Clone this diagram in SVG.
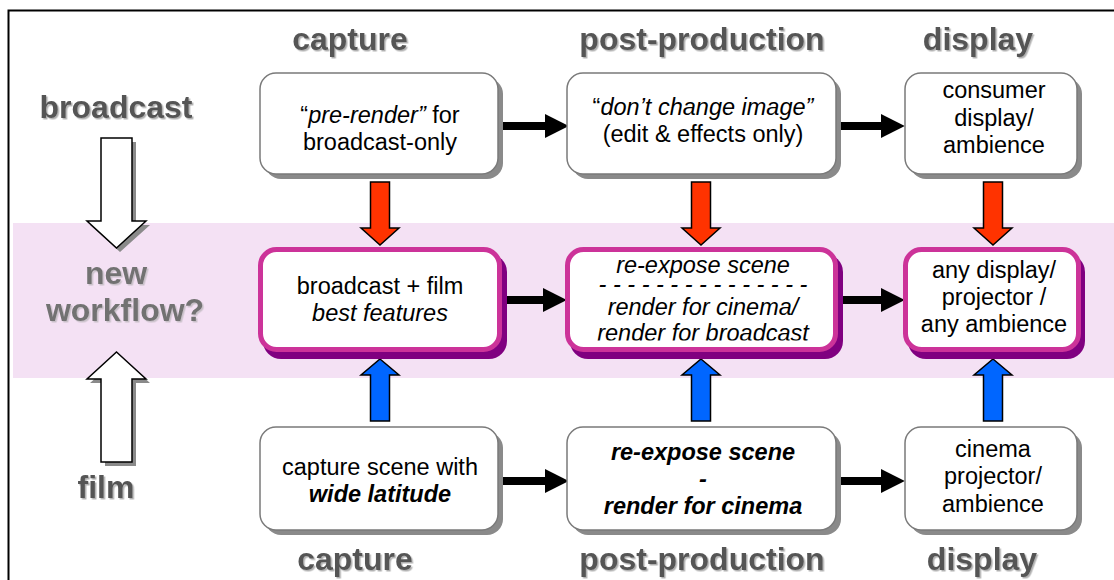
<svg xmlns="http://www.w3.org/2000/svg" width="1114" height="580" viewBox="0 0 1114 580">
  <style>
    text { font-family: "Liberation Sans", Arial, Helvetica, sans-serif; }
    .hd { font-size: 32px; font-weight: bold; fill: #555555; text-anchor: middle; filter: url(#tshadow); }
    .hd2 { font-size: 32px; font-weight: bold; fill: #727272; text-anchor: middle; filter: url(#tshadow2); }
    .t { font-size: 23.5px; fill: #000; text-anchor: middle; }
    .it { font-style: italic; }
    .bi { font-style: italic; font-weight: bold; }
    .box { fill: #ffffff; stroke: #7a7a7a; stroke-width: 1.5; }
    .boxsh { fill: #8a8a8a; }
    .mbox { fill: #ffffff; stroke: #cc3399; stroke-width: 5; }
    .mboxsh { fill: #800080; }
    .conn { stroke: #000; stroke-width: 8; fill: none; marker-end: url(#head); }
    .red { fill: #ff3300; stroke: #000; stroke-width: 1.5; stroke-linejoin: miter; }
    .blue { fill: #0066ff; stroke: #000; stroke-width: 1.5; stroke-linejoin: miter; }
    .wht { fill: #ffffff; stroke: #000; stroke-width: 1.5; stroke-linejoin: miter; }
    .whtsh { fill: #8a8a8a; }
  </style>
  <defs>
    <filter id="tshadow" x="-10%" y="-20%" width="120%" height="150%">
      <feDropShadow dx="1.5" dy="1.5" stdDeviation="0.6" flood-color="#b0b0b0" flood-opacity="1"/>
    </filter>
    <filter id="tshadow2" x="-10%" y="-20%" width="120%" height="150%">
      <feDropShadow dx="1.5" dy="1.5" stdDeviation="0.6" flood-color="#c8c0c8" flood-opacity="1"/>
    </filter>
    <marker id="head" markerUnits="userSpaceOnUse" markerWidth="24" markerHeight="24" viewBox="0 0 22 22" refX="2" refY="11" orient="auto">
      <path d="M0,0 L22,11 L0,22 z" fill="#000"/>
    </marker>
    <clipPath id="clipM2">
      <rect x="560" y="250" width="280" height="90.5"/>
    </clipPath>
  </defs>

  <rect width="1114" height="580" fill="#ffffff"/>
  <!-- outer frame (runs off the right and bottom edges) -->
  <rect x="8.5" y="10.5" width="1200" height="700" fill="none" stroke="#000" stroke-width="2"/>
  <!-- highlighted middle band -->
  <rect x="13" y="223" width="1101" height="155" fill="#f4e1f4"/>

  <!-- row and column headings -->
  <g id="headings">
    <text class="hd" x="350" y="50">capture</text>
    <text class="hd" x="702" y="50">post-production</text>
    <text class="hd" x="978" y="50">display</text>
    <text class="hd" x="355" y="570">capture</text>
    <text class="hd" x="702" y="570">post-production</text>
    <text class="hd" x="982" y="570">display</text>
    <text class="hd" x="116" y="118">broadcast</text>
    <text class="hd2" x="116" y="284">new</text>
    <text class="hd2" x="125" y="321">workflow?</text>
    <text class="hd" x="106" y="498">film</text>
  </g>

  <!-- side arrows: broadcast down, film up -->
  <g id="side-arrows">
    <path class="whtsh" d="M105,142 H136 V225 H150 L120,252 L90,225 H105 Z"/>
    <path class="wht" d="M101,138 H132 V221 H146 L116.5,248 L87,221 H101 Z"/>
    <path class="whtsh" d="M120.5,356 L150,383 H136 V466 H105 V383 H90 Z"/>
    <path class="wht" d="M116.5,352 L146,379 H132 V462 H101 V379 H87 Z"/>
  </g>

  <!-- connectors -->
  <g id="connectors">
    <line class="conn" x1="500" y1="126" x2="547" y2="126"/>
    <line class="conn" x1="838" y1="126" x2="883" y2="126"/>
    <line class="conn" x1="504" y1="300" x2="545" y2="300"/>
    <line class="conn" x1="840" y1="300" x2="883" y2="300"/>
    <line class="conn" x1="500" y1="481" x2="547" y2="481"/>
    <line class="conn" x1="838" y1="481" x2="883" y2="481"/>

    <path class="red" d="M370.5,182 H389.5 V228 H399 L380,245 L361,228 H370.5 Z"/>
    <path class="red" d="M691.5,182 H710.5 V228 H720 L701,245 L682,228 H691.5 Z"/>
    <path class="red" d="M983.5,182 H1002.5 V228 H1012 L993,245 L974,228 H983.5 Z"/>

    <path class="blue" d="M380,359 L399,375 H389.5 V421 H370.5 V375 H361 Z"/>
    <path class="blue" d="M701,359 L720,375 H710.5 V421 H691.5 V375 H682 Z"/>
    <path class="blue" d="M993,359 L1012,375 H1002.5 V421 H983.5 V375 H974 Z"/>
  </g>

  <!-- broadcast row -->
  <g id="bc-capture">
    <rect class="boxsh" x="265" y="78" width="238" height="101" rx="16"/>
    <rect class="box" x="260" y="73" width="238" height="101" rx="16"/>
    <text class="t" x="380" y="123">“<tspan class="it">pre-render”</tspan> for</text>
    <text class="t" x="380" y="150">broadcast-only</text>
  </g>
  <g id="bc-post">
    <rect class="boxsh" x="572" y="78" width="269" height="101" rx="16"/>
    <rect class="box" x="567" y="73" width="269" height="101" rx="16"/>
    <text class="t" x="703" y="115">“<tspan class="it">don’t change image”</tspan></text>
    <text class="t" x="703" y="142">(edit &amp; effects only)</text>
  </g>
  <g id="bc-display">
    <rect class="boxsh" x="910" y="78" width="172" height="101" rx="16"/>
    <rect class="box" x="905" y="73" width="172" height="101" rx="16"/>
    <text class="t" x="994" y="98">consumer</text>
    <text class="t" x="994" y="126">display/</text>
    <text class="t" x="994" y="153">ambience</text>
  </g>

  <!-- new workflow row -->
  <g id="nw-capture">
    <rect class="mboxsh" x="263" y="254" width="244" height="105" rx="18"/>
    <rect class="mbox" x="260.5" y="249.5" width="239" height="100" rx="16"/>
    <text class="t" x="380" y="294">broadcast + film</text>
    <text class="t it" x="380" y="321">best features</text>
  </g>
  <g id="nw-post">
    <rect class="mboxsh" x="570" y="254" width="273" height="105" rx="18"/>
    <rect class="mbox" x="567.5" y="249.5" width="268" height="100" rx="16"/>
    <g clip-path="url(#clipM2)">
      <text class="t it" x="703" y="273">re-expose scene</text>
      <text class="t it" x="703" y="292">- - - - - - - - - - - - - - -</text>
      <text class="t it" x="703" y="315">render for cinema/</text>
      <text class="t it" x="703" y="341">render for broadcast</text>
    </g>
  </g>
  <g id="nw-display">
    <rect class="mboxsh" x="908" y="254" width="177" height="105" rx="18"/>
    <rect class="mbox" x="905.5" y="249.5" width="173" height="100" rx="16"/>
    <text class="t" x="994" y="278">any display/</text>
    <text class="t" x="994" y="305">projector /</text>
    <text class="t" x="994" y="332">any ambience</text>
  </g>

  <!-- film row -->
  <g id="film-capture">
    <rect class="boxsh" x="265" y="432" width="238" height="103" rx="16"/>
    <rect class="box" x="260" y="427" width="238" height="103" rx="16"/>
    <text class="t" x="380" y="475">capture scene with</text>
    <text class="t bi" x="380" y="502">wide latitude</text>
  </g>
  <g id="film-post">
    <rect class="boxsh" x="572" y="432" width="269" height="103" rx="16"/>
    <rect class="box" x="567" y="427" width="269" height="103" rx="16"/>
    <text class="t bi" x="703" y="460">re-expose scene</text>
    <text class="t bi" x="703" y="487">-</text>
    <text class="t bi" x="703" y="514">render for cinema</text>
  </g>
  <g id="film-display">
    <rect class="boxsh" x="910" y="432" width="172" height="103" rx="16"/>
    <rect class="box" x="905" y="427" width="172" height="103" rx="16"/>
    <text class="t" x="993" y="457">cinema</text>
    <text class="t" x="993" y="484">projector/</text>
    <text class="t" x="993" y="512">ambience</text>
  </g>
</svg>
